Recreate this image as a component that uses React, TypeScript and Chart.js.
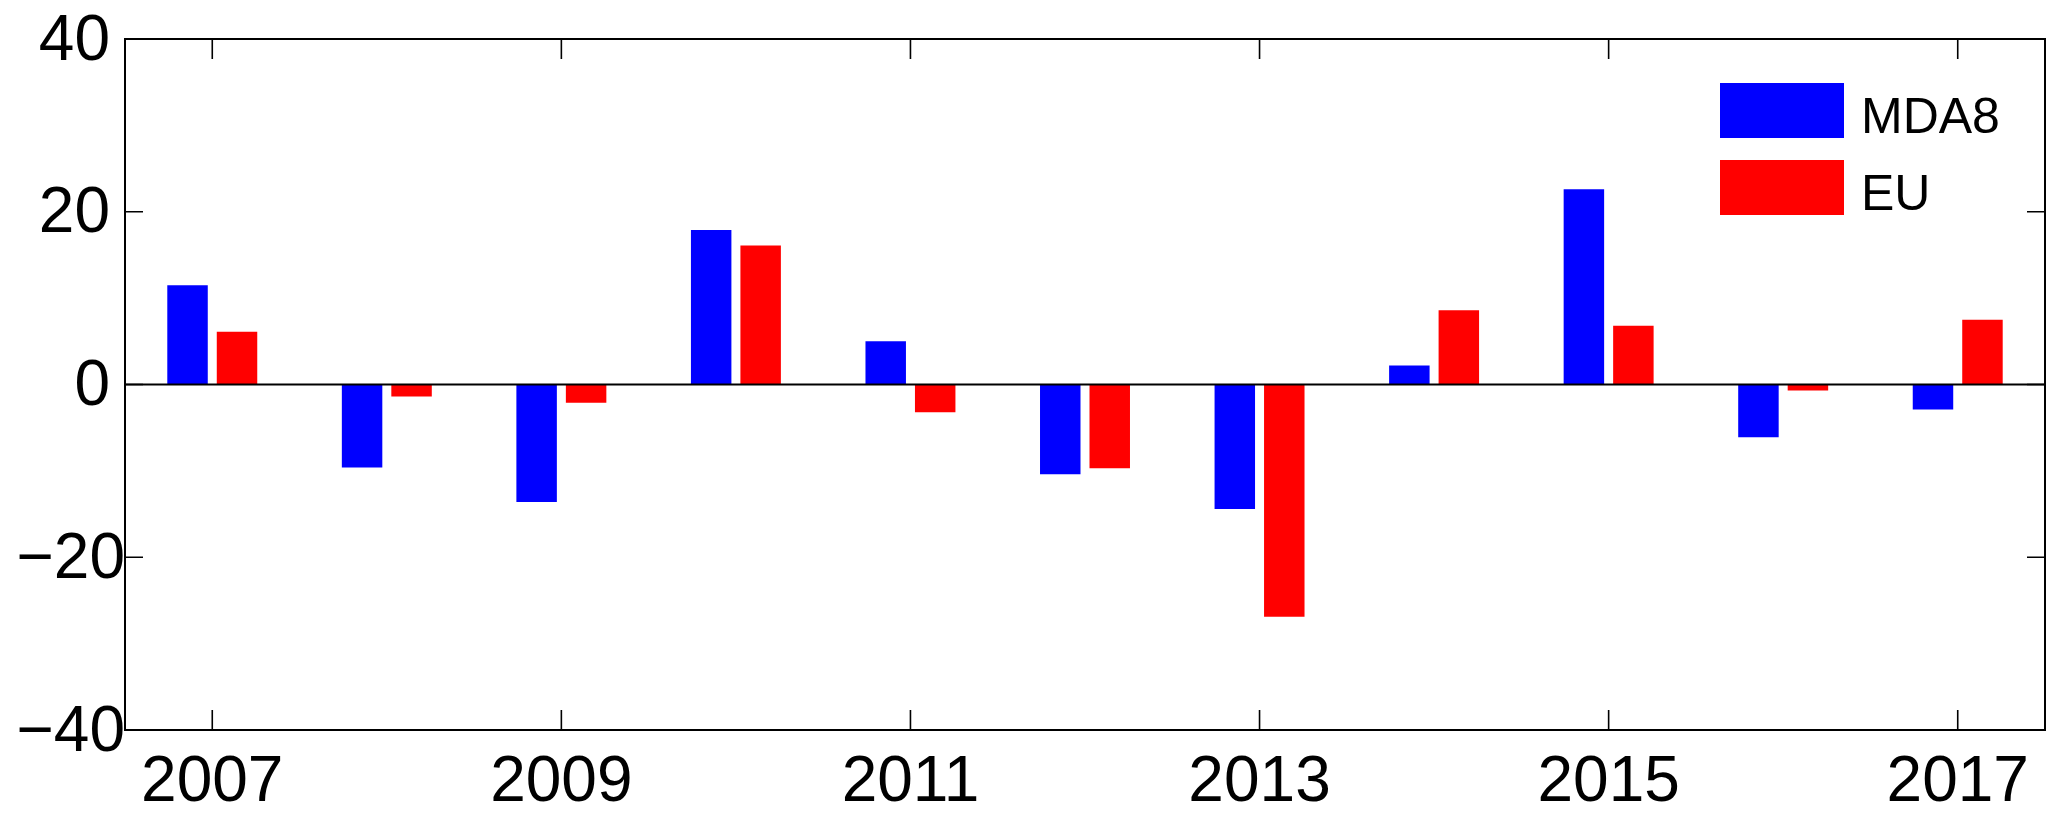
import React, { useEffect, useRef } from "react";
import { Chart, registerables } from "chart.js";

Chart.register(...registerables);

const years = ["2007", "2008", "2009", "2010", "2011", "2012", "2013", "2014", "2015", "2016", "2017"];
const mda8 = [11.5, -9.6, -13.6, 17.9, 5.0, -10.4, -14.4, 2.2, 22.6, -6.1, -2.9];
const eu = [6.1, -1.4, -2.1, 16.1, -3.2, -9.7, -26.9, 8.6, 6.8, -0.7, 7.5];
const xTickYears = ["2007", "2009", "2011", "2013", "2015", "2017"];
const yTickValues = [-40, -20, 0, 20, 40];
const yTickLabels = ["\u221240", "\u221220", "0", "20", "40"];

const FONT = '"Liberation Sans", Arial, sans-serif';

const framePlugin = {
  id: "matlabFrame",
  afterDatasetsDraw(chart: any) {
    const ctx = chart.ctx;
    const { left, right, top, bottom } = chart.chartArea;
    const xs = chart.scales.x;
    const ys = chart.scales.y;
    ctx.save();
    ctx.strokeStyle = "#000";
    ctx.lineWidth = 2;
    // zero baseline
    const y0 = ys.getPixelForValue(0);
    ctx.beginPath();
    ctx.moveTo(left, y0);
    ctx.lineTo(right, y0);
    ctx.stroke();
    // frame
    ctx.strokeRect(left, top, right - left, bottom - top);
    // x ticks
    const tl = 20;
    ctx.lineWidth = 1.6;
    xTickYears.forEach((yr) => {
      const px = xs.getPixelForValue(years.indexOf(yr));
      ctx.beginPath();
      ctx.moveTo(px, bottom);
      ctx.lineTo(px, bottom - tl);
      ctx.moveTo(px, top);
      ctx.lineTo(px, top + tl);
      ctx.stroke();
    });
    // y ticks
    yTickValues.forEach((v) => {
      const py = ys.getPixelForValue(v);
      ctx.beginPath();
      ctx.moveTo(left, py);
      ctx.lineTo(left + 18, py);
      ctx.moveTo(right, py);
      ctx.lineTo(right - 18, py);
      ctx.stroke();
    });
    // labels
    ctx.fillStyle = "#000";
    ctx.font = `64px ${FONT}`;
    ctx.textAlign = "center";
    ctx.textBaseline = "alphabetic";
    xTickYears.forEach((yr) => {
      const px = xs.getPixelForValue(years.indexOf(yr));
      ctx.fillText(yr, px, 801);
    });
    ctx.textAlign = "right";
    ctx.textBaseline = "middle";
    yTickValues.forEach((v, i) => {
      const py = ys.getPixelForValue(v);
      const rx = v < 0 ? left : left - 15;
      ctx.fillText(yTickLabels[i], rx, py + 3);
    });
    // legend
    const ds = chart.data.datasets;
    const boxX = 1720, boxW = 124, boxH = 55;
    const rows = [83, 160];
    ctx.font = `50px ${FONT}`;
    ctx.textAlign = "left";
    ctx.textBaseline = "alphabetic";
    ds.forEach((d: any, i: number) => {
      ctx.fillStyle = d.backgroundColor;
      ctx.fillRect(boxX, rows[i], boxW, boxH);
      ctx.fillStyle = "#000";
      ctx.fillText(d.label, 1861, rows[i] + 50);
    });
    ctx.restore();
  },
};

export default function App() {
  const ref = useRef<HTMLCanvasElement | null>(null);
  useEffect(() => {
    document.body.style.margin = "0";
    const canvas = ref.current!;
    const chart = new Chart(canvas, {
      type: "bar",
      data: {
        labels: years,
        datasets: [
          { label: "MDA8", data: mda8, backgroundColor: "#0000ff", borderWidth: 0 },
          { label: "EU", data: eu, backgroundColor: "#ff0000", borderWidth: 0 },
        ],
      },
      options: {
        responsive: false,
        animation: false,
        devicePixelRatio: 1,
        layout: { padding: { left: 125, right: 22, top: 39, bottom: 92 } },
        datasets: { bar: { categoryPercentage: 0.567, barPercentage: 0.818 } },
        plugins: { legend: { display: false }, tooltip: { enabled: false } },
        scales: {
          x: { type: "category", offset: true, display: false },
          y: { min: -40, max: 40, display: false },
        },
      },
      plugins: [framePlugin],
    });
    return () => chart.destroy();
  }, []);
  return <canvas ref={ref} width={2067} height={822} style={{ display: "block" }} />;
}
